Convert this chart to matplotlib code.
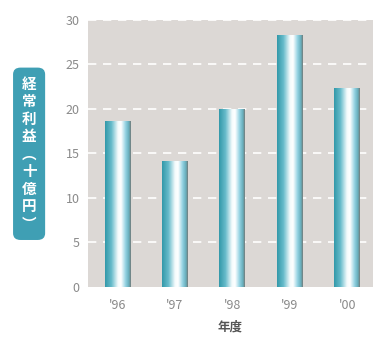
import matplotlib
matplotlib.use("Agg")
import matplotlib.pyplot as plt
import numpy as np
from matplotlib.colors import LinearSegmentedColormap
from matplotlib.patches import FancyBboxPatch

plt.rcParams['font.family'] = ['Noto Sans CJK JP', 'DejaVu Sans']

years = ["'96", "'97", "'98", "'99", "'00"]
profit = [18.7, 14.1, 20.0, 28.3, 22.4]
y_ticks = [0, 5, 10, 15, 20, 25, 30]
y_label = "経常利益︵十億円︶"
x_label = "年度"

BG = "#dcd8d5"
TEAL = "#3f9fb4"
TICK_COL = "#8a8a8a"

# cylinder look for the bars
bar_cmap = LinearSegmentedColormap.from_list("cyl", [
    (0.0, "#3399aa"),
    (0.25, "#68bccb"),
    (0.5, "#f4fbfc"),
    (0.62, "#ffffff"),
    (0.8, "#94d3e2"),
    (0.93, "#66adbb"),
    (1.0, "#74807f"),
])

fig = plt.figure(figsize=(3.73, 3.38), dpi=100)
ax = fig.add_axes([0.236, 0.151, 0.764, 0.790])
ax.set_facecolor(BG)

x = np.arange(len(years))
bars = ax.bar(x, profit, width=0.45, color="none", zorder=3)
grad = np.linspace(0, 1, 64).reshape(1, -1)
for b in bars:
    im = ax.imshow(grad, cmap=bar_cmap, aspect="auto", zorder=3,
                   extent=[b.get_x(), b.get_x() + b.get_width(), 0, b.get_height()])
    im.set_clip_path(b)

ax.set_xlim(-0.513, 4.45)
ax.set_ylim(0, 30)
ax.set_yticks(y_ticks)
ax.set_xticks(x)
ax.set_xticklabels(years)
ax.tick_params(length=0, colors=TICK_COL, labelsize=9)
ax.tick_params(axis="y", pad=6)
ax.tick_params(axis="x", pad=9)
for s in ax.spines.values():
    s.set_visible(False)
for t in y_ticks[1:]:
    ax.axhline(t, color="white", lw=1.2, ls=(0, (5, 4)), zorder=1)

ax.set_xlabel(x_label, color="#555555", fontsize=9, fontweight="bold", labelpad=6)

# boxed vertical y label
box = FancyBboxPatch((0.035, 0.29), 0.086, 0.51, boxstyle="round,pad=0,rounding_size=0.02",
                     transform=fig.transFigure, facecolor=TEAL, edgecolor="none")
fig.patches.append(box)
fig.text(0.078, 0.545, "\n".join(y_label), color="white", fontsize=10.5, fontweight="bold",
         ha="center", va="center", linespacing=1.12)

fig.savefig("out.png", dpi=100)
